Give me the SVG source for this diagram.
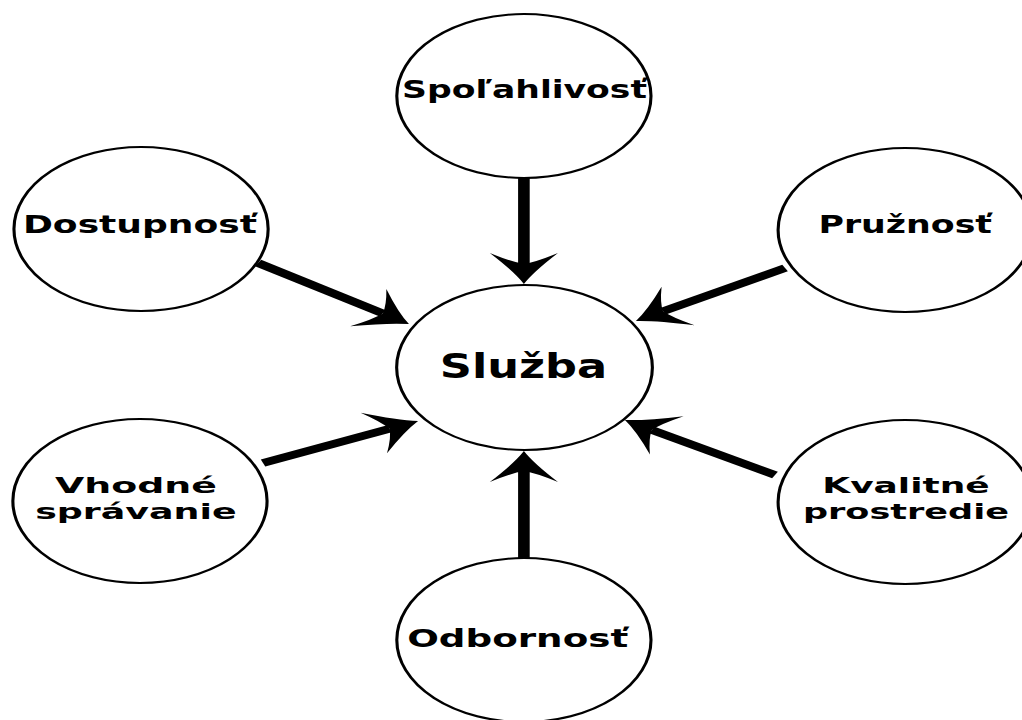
<svg xmlns="http://www.w3.org/2000/svg" width="1022" height="720" viewBox="0 0 1022 720">
  <style>
    .node { fill: #ffffff; stroke: #000000; stroke-width: 2; }
    .lbl { font-family: "DejaVu Sans", "Liberation Sans", sans-serif; font-weight: bold; font-size: 25px; fill: #000000; text-anchor: middle; }
    .two { font-size: 22px; }
    .big { font-size: 34px; }
    .conn { stroke: #000000; stroke-width: 7.5; fill: none; marker-end: url(#head); }
  </style>
  <defs>
    <marker id="head" markerUnits="userSpaceOnUse" orient="auto" refX="-20" refY="0" viewBox="-34 -24 36 48" markerWidth="36" markerHeight="48" overflow="visible">
      <path d="M0,0 Q-12,-6 -31,-22 Q-22,-8 -20,0 Q-22,8 -31,22 Q-12,6 0,0 Z" fill="#000000"/>
    </marker>
  </defs>
  <rect width="1022" height="720" fill="#ffffff"/>
  <g transform="scale(1.55,1)">
    <g id="connectors">
      <line class="conn" x1="338" y1="178" x2="338" y2="264"/>
      <line class="conn" x1="338" y1="558" x2="338" y2="471"/>
      <line class="conn" x1="166.5" y1="263" x2="246.9" y2="313.4"/>
      <line class="conn" x1="506.5" y1="268" x2="427.8" y2="311.3"/>
      <line class="conn" x1="169.7" y1="463" x2="251.3" y2="428.7"/>
      <line class="conn" x1="500" y1="475" x2="420.6" y2="429.9"/>
    </g>
    <g id="sluzba">
      <circle class="node" cx="338.4" cy="367.5" r="82.5"/>
      <text class="lbl big" x="337.7" y="378" textLength="108" lengthAdjust="spacingAndGlyphs">Služba</text>
    </g>
    <g id="spolahlivost">
      <circle class="node" cx="338" cy="96" r="82"/>
      <text class="lbl" x="338.4" y="98" textLength="158" lengthAdjust="spacingAndGlyphs" font-size="23">Spoľahlivosť</text>
    </g>
    <g id="dostupnost">
      <circle class="node" cx="91" cy="229" r="82"/>
      <text class="lbl" x="90.3" y="233" textLength="151" lengthAdjust="spacingAndGlyphs">Dostupnosť</text>
    </g>
    <g id="pruznost">
      <circle class="node" cx="584" cy="230" r="82"/>
      <text class="lbl" x="584" y="233" textLength="112" lengthAdjust="spacingAndGlyphs">Pružnosť</text>
    </g>
    <g id="vhodne-spravanie">
      <circle class="node" cx="90.3" cy="501" r="82"/>
      <text class="lbl two" x="87.7" y="493" textLength="104.5" lengthAdjust="spacingAndGlyphs">Vhodné</text>
      <text class="lbl two" x="87.7" y="519" textLength="130" lengthAdjust="spacingAndGlyphs">správanie</text>
    </g>
    <g id="kvalitne-prostredie">
      <circle class="node" cx="584" cy="502" r="82"/>
      <text class="lbl two" x="584.5" y="493" textLength="108" lengthAdjust="spacingAndGlyphs">Kvalitné</text>
      <text class="lbl two" x="584.5" y="519" textLength="133" lengthAdjust="spacingAndGlyphs">prostredie</text>
    </g>
    <g id="odbornost">
      <circle class="node" cx="338" cy="640" r="82"/>
      <text class="lbl" x="334" y="647" textLength="142.6" lengthAdjust="spacingAndGlyphs">Odbornosť</text>
    </g>
  </g>
</svg>
